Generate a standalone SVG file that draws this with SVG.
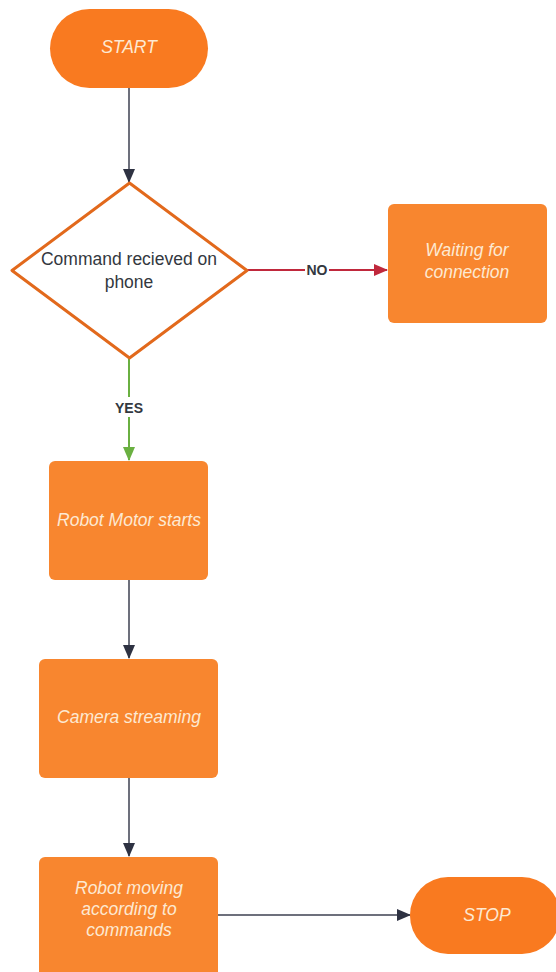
<svg xmlns="http://www.w3.org/2000/svg" width="556" height="972" viewBox="0 0 556 972">
<defs>
<style>
.term{fill:#f97a20;}
.box{fill:#f8862f;}
.lbl{font-family:"Liberation Sans",Arial,sans-serif;font-size:17.5px;font-style:italic;fill:#fde9d2;text-anchor:middle;}
.dk{font-family:"Liberation Sans",Arial,sans-serif;font-size:17.5px;fill:#333840;text-anchor:middle;}
.edgelbl{font-family:"Liberation Sans",Arial,sans-serif;font-size:14px;font-weight:bold;fill:#333840;text-anchor:middle;}
.edge{fill:none;stroke:#3d4150;stroke-width:1.5;}
</style>
<marker id="ah" markerWidth="14" markerHeight="12" refX="13" refY="6" orient="auto" markerUnits="userSpaceOnUse" viewBox="0 0 14 12"><path d="M0,0 L14,6 L0,12 z" fill="#2e3242"/></marker>
<marker id="ahr" markerWidth="14" markerHeight="12" refX="13" refY="6" orient="auto" markerUnits="userSpaceOnUse" viewBox="0 0 14 12"><path d="M0,0 L14,6 L0,12 z" fill="#c0283c"/></marker>
<marker id="ahg" markerWidth="14" markerHeight="12" refX="13" refY="6" orient="auto" markerUnits="userSpaceOnUse" viewBox="0 0 14 12"><path d="M0,0 L14,6 L0,12 z" fill="#6ab041"/></marker>
</defs>
<rect width="556" height="972" fill="#ffffff"/>
<g id="connectors">
<path class="edge" d="M129,88 V182" marker-end="url(#ah)"/>
<path d="M247,270 H387" fill="none" stroke="#c0283c" stroke-width="2" marker-end="url(#ahr)"/>
<rect x="305" y="263" width="24" height="14" fill="#ffffff"/>
<text x="317" y="275" class="edgelbl">NO</text>
<path d="M129,359 V460" fill="none" stroke="#6ab041" stroke-width="2" marker-end="url(#ahg)"/>
<rect x="110" y="397" width="38" height="20" fill="#ffffff"/>
<text x="129" y="413" class="edgelbl">YES</text>
<path class="edge" d="M129,580 V658" marker-end="url(#ah)"/>
<path class="edge" d="M129,778 V856" marker-end="url(#ah)"/>
<path class="edge" d="M218,915 H410" marker-end="url(#ah)"/>
</g>
<g id="start">
<rect class="term" x="50" y="9" width="158" height="79" rx="39.5"/>
<text class="lbl" x="129" y="53">START</text>
</g>
<g id="decision">
<path d="M129.5,183 L247,270.5 L129.5,358 L12,270.5 Z" fill="#ffffff" stroke="#e2691c" stroke-width="3" stroke-linejoin="round"/>
<text class="dk" x="129" y="265">Command recieved on</text>
<text class="dk" x="129" y="288">phone</text>
</g>
<g id="waiting">
<rect class="box" x="388" y="204" width="159" height="119" rx="6"/>
<text class="lbl" x="467" y="256">Waiting for</text>
<text class="lbl" x="467" y="278">connection</text>
</g>
<g id="motor">
<rect class="box" x="49" y="461" width="159" height="119" rx="6"/>
<text class="lbl" x="129" y="526">Robot Motor starts</text>
</g>
<g id="camera">
<rect class="box" x="39" y="659" width="179" height="119" rx="6"/>
<text class="lbl" x="129" y="723">Camera streaming</text>
</g>
<g id="moving">
<rect class="box" x="39" y="857" width="179" height="120" rx="6"/>
<text class="lbl" x="129" y="894">Robot moving</text>
<text class="lbl" x="129" y="915">according to</text>
<text class="lbl" x="129" y="936">commands</text>
</g>
<g id="stop">
<rect class="term" x="410" y="877" width="150" height="77" rx="38"/>
<text class="lbl" x="487" y="921">STOP</text>
</g>
</svg>
